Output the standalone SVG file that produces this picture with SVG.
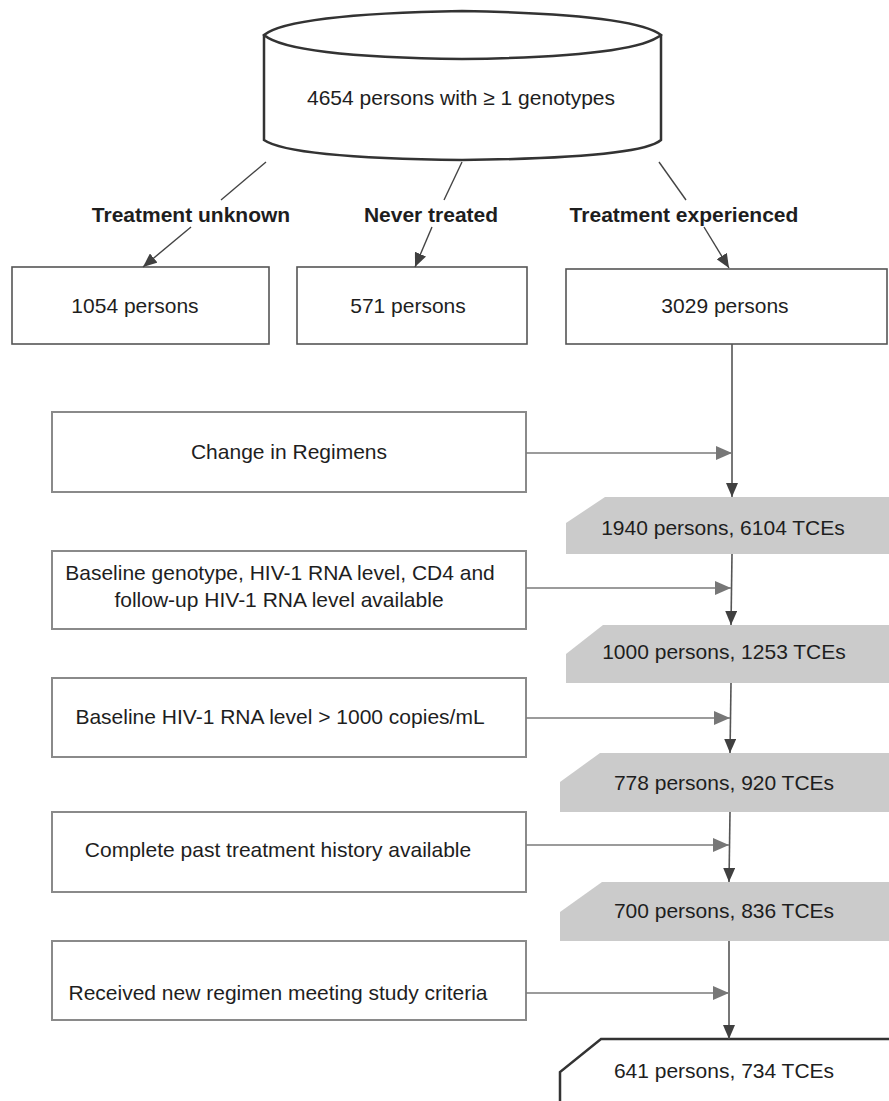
<svg xmlns="http://www.w3.org/2000/svg" width="889" height="1101" viewBox="0 0 889 1101">
<defs>
<style>
text{font-family:"Liberation Sans",Arial,sans-serif;font-size:21px;fill:#1e1e1e;text-anchor:middle}
.b{font-weight:bold}
.top{fill:#fff;stroke:#555;stroke-width:1.6}
.crit{fill:#fff;stroke:#8a8a8a;stroke-width:2}
.gray{fill:#cbcbcb;stroke:none}
.main{stroke:#555;stroke-width:1.6;fill:none}
.side{stroke:#7a7a7a;stroke-width:1.6;fill:none}
.diag{stroke:#444;stroke-width:1.4;fill:none}
</style>
<marker id="ad" markerWidth="14" markerHeight="12" refX="14" refY="6" orient="auto" markerUnits="userSpaceOnUse"><path d="M0,0 L14,6 L0,12 Z" fill="#404040"/></marker>
<marker id="ag" markerWidth="16" markerHeight="14" refX="16" refY="7" orient="auto" markerUnits="userSpaceOnUse"><path d="M0,0 L16,7 L0,14 Z" fill="#777"/></marker>
</defs>
<rect width="889" height="1101" fill="#fff"/>

<g id="source">
<path d="M264,35 Q290,14 462,11 Q634,14 661,35 Q634,57 462,59 Q290,57 264,35 Z M264,35 L264,140 Q290,158 462,160 Q640,158 661,140 L661,35" fill="#fff" stroke="#333" stroke-width="2.5"/>
<text x="461" y="105">4654 persons with ≥ 1 genotypes</text>
</g>

<g id="label-unknown"><text class="b" x="191" y="222">Treatment unknown</text></g>
<g id="label-never"><text class="b" x="431" y="222">Never treated</text></g>
<g id="label-experienced"><text class="b" x="684" y="222">Treatment experienced</text></g>

<g id="n1054"><rect class="top" x="12" y="267" width="257" height="77"/><text x="135" y="313">1054 persons</text></g>
<g id="n571"><rect class="top" x="297" y="267" width="230" height="77"/><text x="408" y="313">571 persons</text></g>
<g id="n3029"><rect class="top" x="566" y="269" width="321" height="75"/><text x="725" y="313">3029 persons</text></g>

<g id="c1"><rect class="crit" x="52" y="412" width="474" height="80"/><text x="289" y="459">Change in Regimens</text></g>
<g id="c2"><rect class="crit" x="52" y="551" width="474" height="78"/><text x="280" y="580">Baseline genotype, HIV-1 RNA level, CD4 and</text><text x="279" y="607">follow-up HIV-1 RNA level available</text></g>
<g id="c3"><rect class="crit" x="52" y="678" width="474" height="79"/><text x="280" y="724">Baseline HIV-1 RNA level &gt; 1000 copies/mL</text></g>
<g id="c4"><rect class="crit" x="52" y="812" width="474" height="80"/><text x="278" y="857">Complete past treatment history available</text></g>
<g id="c5"><rect class="crit" x="52" y="941" width="474" height="79"/><text x="278" y="1000">Received new regimen meeting study criteria</text></g>

<g id="g1940"><path class="gray" d="M566,523 L605,497 L889,497 L889,554 L566,554 Z"/><text x="723" y="535">1940 persons, 6104 TCEs</text></g>
<g id="g1000"><path class="gray" d="M566,654 L603,625 L889,625 L889,683 L566,683 Z"/><text x="724" y="659">1000 persons, 1253 TCEs</text></g>
<g id="g778"><path class="gray" d="M560,782 L600,753 L889,753 L889,812 L560,812 Z"/><text x="724" y="790">778 persons, 920 TCEs</text></g>
<g id="g700"><path class="gray" d="M560,912 L602,882 L889,882 L889,941 L560,941 Z"/><text x="724" y="918">700 persons, 836 TCEs</text></g>

<g id="final"><path d="M560,1105 L560,1072 L601,1039 L892,1039" fill="#fff" stroke="#333" stroke-width="2.5"/><text x="724" y="1078">641 persons, 734 TCEs</text></g>

<g id="connectors">
<line class="diag" x1="266" y1="162" x2="221" y2="200"/>
<line class="diag" x1="191" y1="227" x2="143" y2="267" marker-end="url(#ad)"/>
<line class="diag" x1="462" y1="162" x2="444" y2="200"/>
<line class="diag" x1="432" y1="227" x2="415" y2="267" marker-end="url(#ad)"/>
<line class="diag" x1="659" y1="162" x2="686" y2="200"/>
<line class="diag" x1="704" y1="227" x2="729" y2="268" marker-end="url(#ad)"/>

<line class="main" x1="732" y1="344" x2="732" y2="497" marker-end="url(#ad)"/>
<line class="main" x1="732" y1="554" x2="731" y2="625" marker-end="url(#ad)"/>
<line class="main" x1="731" y1="683" x2="730" y2="753" marker-end="url(#ad)"/>
<line class="main" x1="730" y1="812" x2="729" y2="882" marker-end="url(#ad)"/>
<line class="main" x1="729" y1="941" x2="729" y2="1039" marker-end="url(#ad)"/>

<line class="side" x1="526" y1="453" x2="732" y2="453" marker-end="url(#ag)"/>
<line class="side" x1="526" y1="588" x2="731" y2="588" marker-end="url(#ag)"/>
<line class="side" x1="526" y1="718" x2="730" y2="718" marker-end="url(#ag)"/>
<line class="side" x1="526" y1="845" x2="729" y2="845" marker-end="url(#ag)"/>
<line class="side" x1="526" y1="993" x2="729" y2="993" marker-end="url(#ag)"/>
</g>
</svg>
